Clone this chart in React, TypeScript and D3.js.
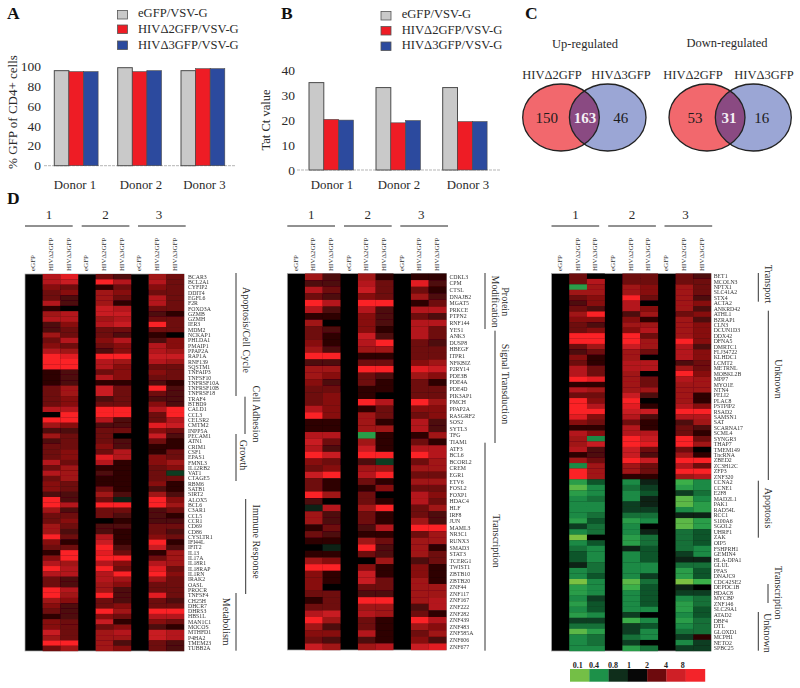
import React from "react";
import * as d3 from "d3";

const donors = ["Donor 1", "Donor 2", "Donor 3"];
const vectors = ["eGFP/VSV-G", "HIVΔ2GFP/VSV-G", "HIVΔ3GFP/VSV-G"];
const barColors = ["#c9c9c9", "#ee1c25", "#2c4a9e"];
const gfpValues = [[96, 95, 95], [99, 95, 96], [96, 98, 98]];
const tatValues = [[35.2, 20.4, 20.1], [33.2, 19, 19.9], [33.2, 19.5, 19.5]];
const gfpTicks = [0, 20, 40, 60, 80, 100];
const tatTicks = [0, 10, 20, 30, 40];
const colNames = ["eGFP", "HIVΔ2GFP", "HIVΔ3GFP"];

const genes1 = ["BCAR3","BCL2A1","CYFIP2","DDIT4","EGFL6","F2R","FOXO3A","GZMB","GZMH","IER3","MDM2","NCKAP1","PHLDA1","PMAIP1","PPAP2A","RAP1A","RNF139","SQSTM1","TNFAIP3","TNFSF10","TNFRSF10A","TNFRSF10B","TNFRSF18","TRAF4","BTBD9","CALD1","CCL3","CELSR2","CMTM2","INPP5A","PECAM1","ATN1","CRIM1","CSF1","EPAS1","FMNL3","IL12RB2","VAT1","CTAGE5","RBM6","SATB1","SIRT2","ALOX5","BCL6","C3AR1","CCL5","CCR1","CD69","CD86","CYSLTR1","IFI44L","IFIT2","IL13","IL17A","IL18R1","IL18RAP","IL1RN","IRAK2","OASL","PROCR","TNFSF4","CH25H","DHCR7","DHRS3","HBS1L","MAN1C1","MOCOS","MTHFD1","P4HA2","TMEM23","TUBB2A"];
const levels1 = [[6,8,3,2,5,3],[6,7,9,6,6,3],[4,3,1,3,4,3],[3,4,5,4,3,3],[3,2,5,3,6,3],[6,2,5,1,6,3],[1,0,7,6,3,3],[5,6,7,7,2,1],[6,6,5,6,3,3],[2,4,6,7,9,3],[2,3,3,3,3,3],[5,3,3,2,1,0],[3,6,4,6,2,4],[4,3,3,4,6,4],[6,5,2,4,6,5],[9,8,9,9,7,7],[9,9,6,5,6,5],[9,9,6,4,3,3],[1,2,3,4,4,3],[1,2,6,4,3,3],[1,2,1,1,2,1],[3,5,7,3,9,2],[3,5,7,3,3,2],[3,4,2,3,2,2],[3,4,3,3,4,2],[6,6,9,9,6,9],[0,9,9,9,3,9],[9,9,6,2,3,6],[5,4,2,2,8,7],[2,2,3,3,4,3],[5,3,3,0,7,2],[2,3,3,2,3,1],[3,3,4,2,1,1],[3,4,3,6,1,3],[3,4,8,6,4,3],[6,3,6,1,4,5],[3,5,1,1,3,4],[6,5,2,1,3,-2],[3,5,1,1,3,3],[4,3,1,1,4,1],[4,3,3,1,2,1],[2,2,5,2,5,2],[9,2,3,-1,9,4],[9,6,9,9,9,5],[5,2,3,3,2,3],[3,3,3,2,2,1],[3,4,0,1,2,2],[5,3,2,2,3,3],[5,2,2,1,3,2],[9,3,6,1,4,3],[4,1,7,1,9,1],[3,3,9,2,7,2],[1,9,8,3,1,5],[4,9,9,9,3,5],[6,5,6,4,6,5],[9,6,9,3,8,3],[6,6,6,9,9,4],[3,2,6,5,5,3],[3,2,5,4,3,3],[9,6,5,2,3,3],[9,5,9,2,8,3],[5,4,3,2,3,2],[4,2,3,4,3,3],[3,2,9,5,9,9],[1,2,4,3,6,6],[4,3,7,1,4,3],[4,3,3,4,2,1],[7,3,5,6,7,6],[5,3,5,5,7,6],[9,9,5,2,3,2],[3,5,5,4,3,2]];

const genes2 = ["CDKL3","CPM","CTSL","DNAJB2","MGAT5","PRKCE","PTPN2","RNF144","YES1","ANK3","DUSP8","HBEGF","ITPR1","NFKBIZ","P2RY14","PDE3B","PDE4A","PDE4D","PIK3AP1","PMCH","PPAP2A","RASGRF2","SOS2","SYTL3","TFG","TIAM1","ATF3","BCL6","BCORL2","CREM","EGR1","ETV6","FOSL2","FOXP1","HDAC4","HLF","IRF8","JUN","MAML3","NR3C1","RUNX3","SMAD3","STAT3","TCERG1","TWIST1","ZBTB10","ZBTB20","ZNF44","ZNF117","ZNF167","ZNF222","ZNF282","ZNF439","ZNF483","ZNF585A","ZNF606","ZNF677"];
const levels2 = [[5,2,5,1,1,1],[2,2,6,3,8,2],[6,3,7,3,3,1],[3,2,4,3,5,2],[9,6,9,9,1,3],[6,2,6,2,6,6],[1,1,4,2,3,2],[5,0,4,2,6,6],[3,2,4,1,6,3],[3,1,7,2,6,3],[4,1,6,9,3,2],[5,2,5,5,3,3],[9,9,1,1,3,3],[2,2,3,3,4,5],[5,5,9,9,8,7],[5,4,3,2,5,4],[4,2,3,1,3,1],[3,3,1,1,3,3],[3,4,1,0,3,3],[3,4,9,6,9,5],[6,4,1,3,4,4],[9,4,5,3,3,4],[1,1,5,1,6,2],[1,1,5,5,6,2],[6,6,-6,1,1,5],[7,3,5,1,3,1],[6,2,7,1,6,6],[9,7,9,9,9,6],[4,3,2,-2,3,5],[3,4,5,5,5,5],[7,9,6,9,3,3],[3,1,3,1,5,5],[3,1,1,4,3,3],[9,5,3,0,6,4],[2,0,3,1,6,3],[-1,6,5,9,3,5],[5,2,3,1,3,2],[5,2,3,1,5,2],[1,3,2,6,9,9],[3,2,1,1,3,5],[1,1,5,3,5,5],[0,-1,9,2,5,1],[1,1,3,2,5,3],[5,4,0,5,2,3],[9,9,4,1,4,1],[4,1,7,1,4,1],[4,1,7,3,5,1],[4,0,3,3,5,5],[3,3,2,2,5,5],[1,3,9,9,5,6],[3,3,5,5,2,6],[6,7,6,5,3,1],[9,5,3,1,9,6],[5,2,3,1,5,4],[4,4,6,1,3,5],[3,2,2,1,4,2],[7,5,5,6,7,8]];

const genes3 = ["BET1","MCOLN3","NPTX1","SLC41A2","STX4","ACTA2","ANKRD42","ATHL1","BZRAP1","CLN3","DCUN1D3","DDX42","DFNA5","DMRTC1","FLJ34722","KLHDC1","LCMT2","METRNL","MOBKL2B","MPP7","MYO1E","NTN4","PELI2","PLAC8","PSTPIP2","RSAD2","SAMSN1","SAT","SCARNA17","SCML4","SYNGR3","THAP7","TMEM149","TncRNA","ZBED2","ZC3H12C","ZFP3","ZNF320","CCNA2","CCNE1","E2F8","MAD2L1","PAK1","RAD54L","RCC1","S100A6","SGOL2","UHRF1","ZAK","OIP5","FSHPRH1","GEMIN4","HLA-DPA1","GLUL","PFAS","DNAJC9","CDC42SE2","DEPDC1B","HDAC8","MYCBP","ZNF146","SLC29A1","ATAD2","DBF4","DTL","GLOXD1","MCPH1","NETO2","SPBC25"];
const levels3 = [[3,0,3,3,3,2],[3,6,3,3,3,3],[-6,5,5,4,5,3],[5,5,5,4,5,3],[3,4,9,3,5,2],[2,4,6,0,5,4],[3,2,6,4,5,2],[5,9,2,5,3,4],[4,4,4,1,5,2],[3,2,5,5,5,4],[3,4,4,6,5,4],[9,9,9,3,5,4],[9,9,9,5,9,4],[3,5,7,5,6,2],[2,3,5,3,6,4],[4,1,5,0,6,4],[3,1,6,6,2,3],[6,3,6,6,5,3],[6,3,5,0,9,4],[9,8,5,3,6,5],[1,1,5,3,5,5],[6,5,5,5,5,5],[3,3,7,2,5,1],[9,4,9,0,5,1],[9,6,8,1,6,4],[9,9,7,7,9,9],[8,4,6,2,6,6],[4,3,3,1,2,5],[1,1,6,1,3,2],[6,4,6,6,3,1],[5,-5,9,7,9,3],[5,7,9,8,9,5],[6,2,7,3,3,0],[1,2,7,2,5,1],[5,3,9,7,9,9],[-5,5,5,3,6,3],[9,5,5,3,9,9],[9,5,1,1,5,6],[-6,-3,-5,-1,-7,-5],[-8,-5,-4,-2,-6,-5],[-6,-5,-5,-3,-2,-4],[-5,-4,-5,-1,-8,-5],[-5,-5,-2,-1,-8,-6],[-5,-5,-2,-2,-5,-6],[-5,-4,-4,-4,-1,-1],[-6,-3,-6,-5,-8,-6],[-2,-4,-5,0,-8,-6],[-5,-4,-5,-1,-4,-3],[-9,0,-6,-4,-4,-3],[-5,-3,-6,-4,-4,-3],[-4,-5,-1,-3,-4,-5],[-3,-5,-5,-3,-2,-5],[-3,-5,-5,-3,-1,-1],[-1,-4,-5,-5,-4,-4],[-5,-4,-5,-5,-6,-3],[-5,-3,-5,-2,-6,-3],[-9,-5,-8,-4,-9,-7],[-6,-5,-7,-3,-1,0],[-6,-5,-5,-3,-2,-2],[-5,-2,-5,-3,-5,-4],[-6,-3,-5,-3,-6,-4],[-5,-3,-5,-5,-6,-3],[-6,-5,-2,0,-5,-3],[-2,-2,-7,-5,-6,-4],[-4,-4,-2,-3,-5,-4],[-8,-6,-2,-5,-4,-4],[-5,-4,-4,-5,-2,1],[-5,-4,-2,0,-5,-2],[-5,-5,-6,-4,-2,-2]];

const legendLabels = ["0.1", "0.4", "0.8", "1", "2", "4", "8"];
const legendColors = ["#74bf46", "#1d9149", "#0f2e1b", "#070707", "#6d0a0d", "#cf1f26", "#f3242a"];
const legendTextX = [577.7, 594, 613, 629, 647, 666, 682.7];

const heat = d3.scaleLinear<string>()
  .domain([-9, -7, -5, -3, -1, 0, 1, 3, 5, 7, 9])
  .range(["#7cc143", "#3aaf4a", "#1b8a45", "#10552c", "#0c2414", "#050505", "#2d0506", "#6e090c", "#a01216", "#c81c22", "#fb2226"]);

const serif = "'Liberation Serif', serif";
const textCol = "#2a2a2a";

function Bars({ values, ticks, maxV, x0, y0, yTop, axisL, axisR, groupX, barW, tickX, labelX, labelCy, label, donorX }: any) {
  const y = d3.scaleLinear().domain([0, maxV]).range([y0, yTop]);
  const x = d3.scaleLinear().domain([0, 1]).range([0, barW]);
  return (
    <g>
      <line x1={axisL} x2={axisR} y1={y0} y2={y0} stroke="#b5b5b5" strokeWidth={1} strokeDasharray="3 1" />
      {values.map((grp: number[], g: number) =>
        grp.map((v, s) => (
          <rect key={g + "-" + s} x={groupX[g] + x(s)} y={y(v)} width={barW} height={y0 - y(v)}
            fill={barColors[s]} stroke="#4a4a4a" strokeWidth={s === 0 ? 1 : 0.6} />
        ))
      )}
      {ticks.map((t: number) => (
        <text key={t} x={tickX} y={y(t)} textAnchor="end" dominantBaseline="central" fontSize={13.5} fill={textCol}>{t}</text>
      ))}
      <text transform={`translate(${labelX},${labelCy}) rotate(-90)`} textAnchor="middle" dominantBaseline="central" fontSize={label.length > 14 ? 13 : 12.5} fill={textCol}>{label}</text>
      {donors.map((d, i) => (
        <text key={d} x={donorX[i]} y={185} textAnchor="middle" dominantBaseline="central" fontSize={12.8} fill={textCol}>{d}</text>
      ))}
    </g>
  );
}

function BarLegend({ sx, tx, sy, ty }: any) {
  return (
    <g>
      {vectors.map((v, i) => (
        <g key={v}>
          <rect x={sx} y={sy[i]} width={10} height={8.5} fill={barColors[i]} stroke="#555" strokeWidth={0.8} />
          <text x={tx} y={ty[i]} dominantBaseline="central" fontSize={12.6} fill={textCol}>{v}</text>
        </g>
      ))}
    </g>
  );
}

function Venn({ id, lcx, rcx, rx, ry, cy, nums, numX }: any) {
  return (
    <g>
      <clipPath id={id}><ellipse cx={lcx} cy={cy} rx={rx} ry={ry} /></clipPath>
      <ellipse cx={lcx} cy={cy} rx={rx} ry={ry} fill="#f2686d" />
      <ellipse cx={rcx} cy={cy} rx={rx} ry={ry} fill="#9ba6d5" />
      <ellipse cx={rcx} cy={cy} rx={rx} ry={ry} fill="#8a4a82" clipPath={`url(#${id})`} />
      <ellipse cx={lcx} cy={cy} rx={rx} ry={ry} fill="none" stroke="#222" strokeWidth={1.3} />
      <ellipse cx={rcx} cy={cy} rx={rx} ry={ry} fill="none" stroke="#222" strokeWidth={1.3} />
      {nums.map((n: number, i: number) => (
        <text key={i} x={numX[i]} y={cy} textAnchor="middle" dominantBaseline="central" fontSize={15}
          fill={i === 1 ? "#f4eef4" : "#1c1c1c"} fontWeight={i === 1 ? 700 : 400}>{n}</text>
      ))}
    </g>
  );
}

function Heat({ genes, levels, x0, x1, yStops, rowStops, labelX }: any) {
  const x = d3.scaleBand<number>().domain(d3.range(9)).range([x0, x1]);
  const y = d3.scaleLinear().domain(rowStops).range(yStops);
  const w = x.bandwidth();
  const groupStart = [0, 56.7, 113];
  const numDx = [24, 80.5, 134];
  return (
    <g>
      {groupStart.map((g, i) => (
        <g key={i}>
          <line x1={x0 + g} x2={x0 + g + 47.7} y1={226} y2={226} stroke="#222" strokeWidth={1} />
          <text x={x0 + numDx[i]} y={214} textAnchor="middle" dominantBaseline="central" fontSize={13} fill={textCol}>{i + 1}</text>
        </g>
      ))}
      {d3.range(9).map(c => (
        <text key={c} transform={`translate(${(x(c) as number) + w / 2 - 0.5},271) rotate(-90)`} fontSize={7} dominantBaseline="central" fill="#333">{colNames[c % 3]}</text>
      ))}
      <g filter="url(#soft)">
        <rect x={x0} y={y(0)} width={x1 - x0} height={y(genes.length) - y(0)} fill="#050505" stroke="#aaa" strokeWidth={0.7} />
        {levels.map((row: number[], r: number) =>
          row.map((v, k) => {
            const c = k + Math.floor(k / 2) + 1;
            return <rect key={r + "-" + k} x={x(c)} y={y(r)} width={w + 0.2} height={y(r + 1) - y(r) + 0.2} fill={heat(v)} />;
          })
        )}
        {genes.map((g: string, r: number) => (
          <text key={g + r} x={labelX} y={(y(r) + y(r + 1)) / 2} dominantBaseline="central" fontSize={5.8} fill="#333">{g}</text>
        ))}
      </g>
    </g>
  );
}

function Bracket({ x, y1, y2, tx, ty, lines, size = 10 }: any) {
  return (
    <g>
      <line x1={x} x2={x} y1={y1} y2={y2} stroke="#333" strokeWidth={1} />
      {lines.map((t: string, i: number) => (
        <text key={t} transform={`translate(${tx[i]},${ty}) rotate(90)`} textAnchor="middle" dominantBaseline="central" fontSize={size} fill={textCol}>{t}</text>
      ))}
    </g>
  );
}

const Letter = ({ x, y, t }: any) => (
  <text x={x} y={y} fontSize={17.5} fontWeight={700} fill="#111">{t}</text>
);

export default function App() {
  return (
    <svg width={800} height={688} style={{ position: "absolute", left: 0, top: 0, background: "#fff" }} fontFamily={serif}>
      <defs>
        <filter id="soft" x="-2%" y="-2%" width="104%" height="104%"><feGaussianBlur stdDeviation={0.45} /></filter>
      </defs>

      <Letter x={7} y={19} t="A" />
      <Letter x={281} y={19} t="B" />
      <Letter x={525} y={19} t="C" />
      <Letter x={7} y={204} t="D" />

      <BarLegend sx={117.5} tx={138} sy={[10.5, 25, 41]} ty={[13, 29, 44.5]} />
      <BarLegend sx={381} tx={401.7} sy={[11.5, 26.5, 42]} ty={[13.5, 30, 45]} />

      <Bars values={gfpValues} ticks={gfpTicks} maxV={100} y0={165.7} yTop={66.7} axisL={44} axisR={236}
        groupX={[54.3, 117.7, 181]} barW={14.6} tickX={41} labelX={12} labelCy={112} label="% GFP of CD4+ cells" donorX={[75, 141, 204.5]} />
      <Bars values={tatValues} ticks={tatTicks} maxV={40} y0={170} yTop={70.7} axisL={297} axisR={500}
        groupX={[309, 376, 442.7]} barW={14.8} tickX={295} labelX={266} labelCy={120} label="Tat Ct value" donorX={[332, 399, 468]} />

      <text x={585} y={44} textAnchor="middle" dominantBaseline="central" fontSize={12.5} fill={textCol}>Up-regulated</text>
      <text x={727} y={43} textAnchor="middle" dominantBaseline="central" fontSize={12.5} fill={textCol}>Down-regulated</text>
      {[[552, "HIVΔ2GFP"], [621, "HIVΔ3GFP"], [693, "HIVΔ2GFP"], [764, "HIVΔ3GFP"]].map(([x, t], i) => (
        <text key={i} x={x as number} y={75} textAnchor="middle" dominantBaseline="central" fontSize={12.5} fill={textCol}>{t}</text>
      ))}
      <Venn id="venn-up" lcx={561} rcx={607.7} rx={38.3} ry={33.5} cy={117.5} nums={[150, 163, 46]} numX={[546.7, 585, 620.7]} />
      <Venn id="venn-down" lcx={707} rcx={753.3} rx={38} ry={33.5} cy={117.5} nums={[53, 31, 16]} numX={[695, 729, 761.7]} />

      <Heat genes={genes1} levels={levels1} x0={25} x1={184} yStops={[274, 651]} rowStops={[0, 71]} labelX={188} />
      <Heat genes={genes2} levels={levels2} x0={287.3} x1={446.3} yStops={[273.5, 650]} rowStops={[0, 57]} labelX={449.5} />
      <Heat genes={genes3} levels={levels3} x0={551.5} x1={711} yStops={[273.5, 479.3, 651]} rowStops={[0, 38, 69]} labelX={713.7} />

      <Bracket x={236} y1={273} y2={396} tx={[246]} ty={330} lines={["Apoptosis/Cell Cycle"]} />
      <Bracket x={245} y1={396.7} y2={434} tx={[256]} ty={414} lines={["Cell Adhesion"]} />
      <Bracket x={236} y1={434} y2={481} tx={[243.5]} ty={455} lines={["Growth"]} />
      <Bracket x={245.7} y1={499} y2={594} tx={[256]} ty={541.7} lines={["Immune Response"]} />
      <Bracket x={236} y1={593} y2={650.7} tx={[226]} ty={621.7} lines={["Metabolism"]} />

      <Bracket x={485} y1={273} y2={329} tx={[505, 495]} ty={301.7} lines={["Protein", "Modification"]} />
      <Bracket x={495} y1={330.7} y2={443} tx={[505]} ty={384} lines={["Signal Transduction"]} />
      <Bracket x={485} y1={442.7} y2={650.7} tx={[496]} ty={541} lines={["Transcription"]} />

      <Bracket x={758.3} y1={273} y2={301.7} tx={[768]} ty={284} lines={["Transport"]} />
      <Bracket x={768.3} y1={310.7} y2={480} tx={[778]} ty={379} lines={["Unknown"]} />
      <Bracket x={758.3} y1={480.7} y2={537.7} tx={[768]} ty={508} lines={["Apoptosis"]} />
      <Bracket x={768} y1={584} y2={603} tx={[778]} ty={592.7} lines={["Transcription"]} />
      <Bracket x={758.3} y1={612} y2={650.7} tx={[767]} ty={633} lines={["Unknown"]} />

      {legendColors.map((c, i) => (
        <rect key={c} x={570 + i * (135 / 7)} y={669} width={135 / 7 + 0.2} height={12.7} fill={c} />
      ))}
      {legendLabels.map((t, i) => (
        <text key={t} x={legendTextX[i]} y={665.7} textAnchor="middle" dominantBaseline="central" fontSize={8} fontWeight={700} fill="#222">{t}</text>
      ))}
    </svg>
  );
}
